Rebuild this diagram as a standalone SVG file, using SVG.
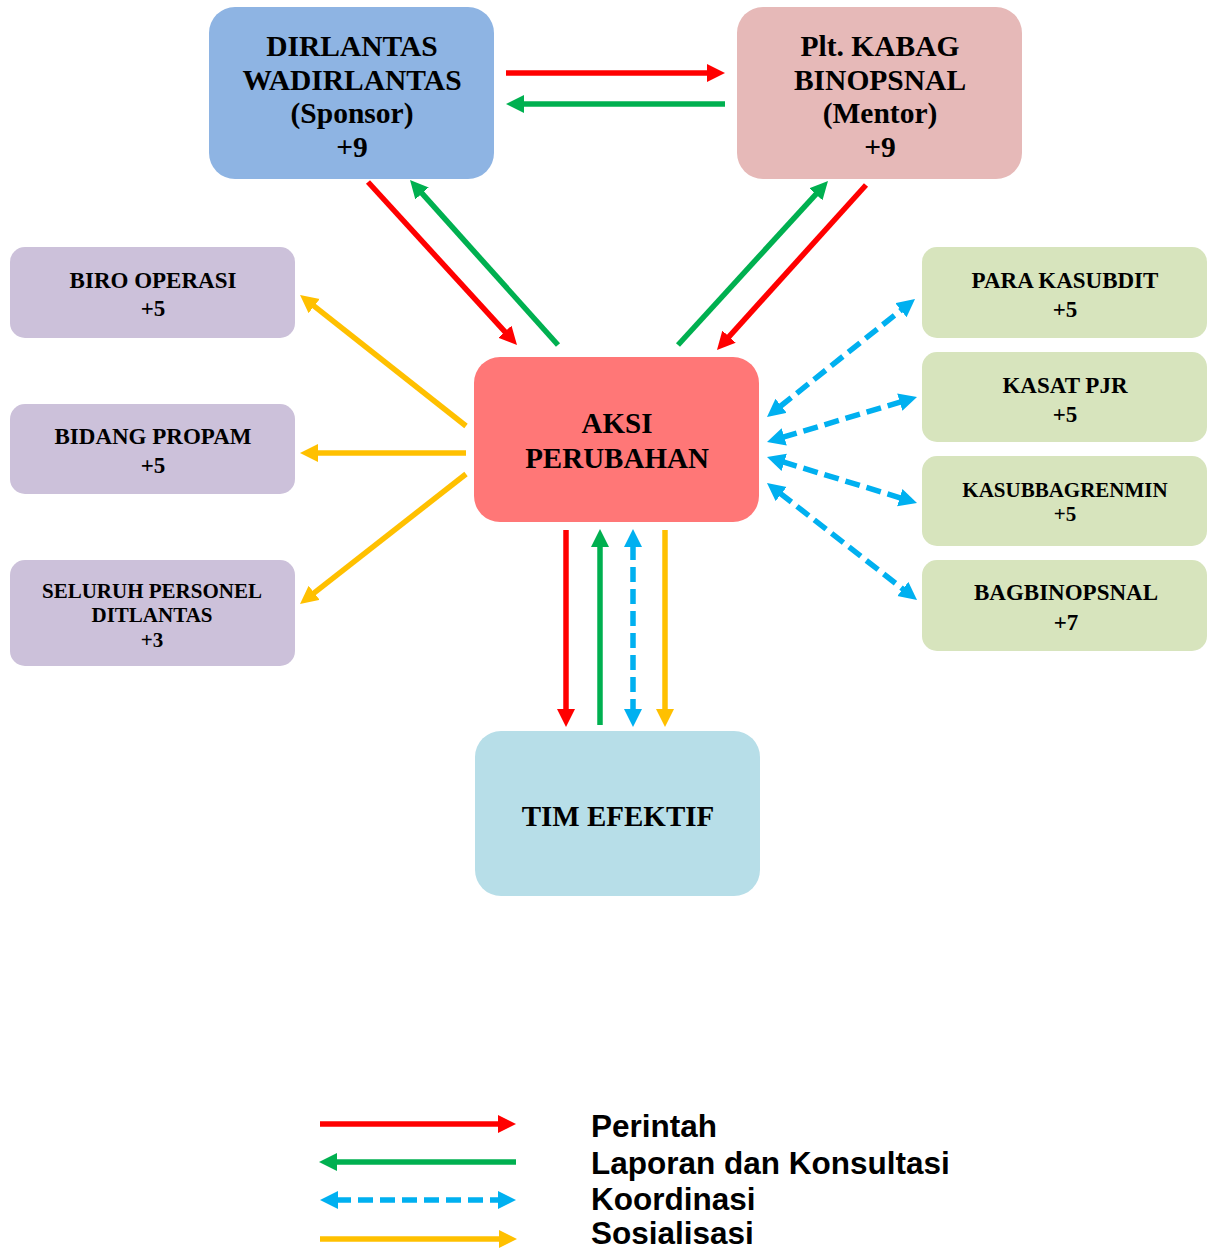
<svg xmlns="http://www.w3.org/2000/svg" width="1208" height="1251" viewBox="0 0 1208 1251">
<style>
.t{font-family:"Liberation Serif","Times New Roman",serif;font-weight:bold;fill:#000;text-anchor:middle}
.lg{font-family:"Liberation Sans",Arial,sans-serif;font-weight:bold;font-size:31.5px;fill:#000}
.r{stroke:#FF0000;stroke-width:5.5;fill:none}
.g{stroke:#00B050;stroke-width:5.5;fill:none}
.y{stroke:#FFC000;stroke-width:5.5;fill:none}
.b{stroke:#00B0F0;stroke-width:5.5;fill:none;stroke-dasharray:15 7}
</style>
<defs>
<marker id="mr" markerUnits="userSpaceOnUse" markerWidth="20" markerHeight="20" refX="2" refY="9" orient="auto-start-reverse"><path d="M0,0 L18,9 L0,18 z" fill="#FF0000"/></marker>
<marker id="mg" markerUnits="userSpaceOnUse" markerWidth="20" markerHeight="20" refX="2" refY="9" orient="auto-start-reverse"><path d="M0,0 L18,9 L0,18 z" fill="#00B050"/></marker>
<marker id="my" markerUnits="userSpaceOnUse" markerWidth="20" markerHeight="20" refX="2" refY="9" orient="auto-start-reverse"><path d="M0,0 L18,9 L0,18 z" fill="#FFC000"/></marker>
<marker id="mb" markerUnits="userSpaceOnUse" markerWidth="20" markerHeight="20" refX="2" refY="9" orient="auto-start-reverse"><path d="M0,0 L18,9 L0,18 z" fill="#00B0F0"/></marker>
</defs>

<g id="dirlantas">
<rect x="209" y="7" width="285" height="172" rx="26" fill="#8EB4E3"/>
<text class="t" font-size="29.5" x="352" y="56">DIRLANTAS</text>
<text class="t" font-size="29.5" x="352" y="90">WADIRLANTAS</text>
<text class="t" font-size="29.5" x="352" y="123">(Sponsor)</text>
<text class="t" font-size="29.5" x="352" y="157">+9</text>
</g>
<g id="mentor">
<rect x="737" y="7" width="285" height="172" rx="26" fill="#E6B9B8"/>
<text class="t" font-size="29.5" x="880" y="56">Plt. KABAG</text>
<text class="t" font-size="29.5" x="880" y="90">BINOPSNAL</text>
<text class="t" font-size="29.5" x="880" y="123">(Mentor)</text>
<text class="t" font-size="29.5" x="880" y="157">+9</text>
</g>
<g id="biro">
<rect x="10" y="247" width="285" height="91" rx="15" fill="#CCC1DA"/>
<text class="t" font-size="23" x="153" y="288">BIRO OPERASI</text>
<text class="t" font-size="23" x="153" y="316">+5</text>
</g>
<g id="propam">
<rect x="10" y="404" width="285" height="90" rx="15" fill="#CCC1DA"/>
<text class="t" font-size="23" x="153" y="444">BIDANG PROPAM</text>
<text class="t" font-size="23" x="153" y="473">+5</text>
</g>
<g id="seluruh">
<rect x="10" y="560" width="285" height="106" rx="15" fill="#CCC1DA"/>
<text class="t" font-size="21" x="152" y="598">SELURUH PERSONEL</text>
<text class="t" font-size="21" x="152" y="622">DITLANTAS</text>
<text class="t" font-size="21" x="152" y="647">+3</text>
</g>
<g id="aksi">
<rect x="474" y="357" width="285" height="165" rx="26" fill="#FF7777"/>
<text class="t" font-size="29" x="617" y="433">AKSI</text>
<text class="t" font-size="29" x="617" y="468">PERUBAHAN</text>
</g>
<g id="tim">
<rect x="475" y="731" width="285" height="165" rx="26" fill="#B7DEE8"/>
<text class="t" font-size="29" x="618" y="826">TIM EFEKTIF</text>
</g>
<g id="kasubdit">
<rect x="922" y="247" width="285" height="91" rx="15" fill="#D7E4BD"/>
<text class="t" font-size="23" x="1065" y="288">PARA KASUBDIT</text>
<text class="t" font-size="23" x="1065" y="317">+5</text>
</g>
<g id="kasat">
<rect x="922" y="352" width="285" height="90" rx="15" fill="#D7E4BD"/>
<text class="t" font-size="23" x="1065" y="393">KASAT PJR</text>
<text class="t" font-size="23" x="1065" y="422">+5</text>
</g>
<g id="kasubbag">
<rect x="922" y="456" width="285" height="90" rx="15" fill="#D7E4BD"/>
<text class="t" font-size="21" x="1065" y="497">KASUBBAGRENMIN</text>
<text class="t" font-size="21" x="1065" y="521">+5</text>
</g>
<g id="bagbin">
<rect x="922" y="560" width="285" height="91" rx="15" fill="#D7E4BD"/>
<text class="t" font-size="23" x="1066" y="600">BAGBINOPSNAL</text>
<text class="t" font-size="23" x="1066" y="630">+7</text>
</g>

<g id="connectors">
<line class="r" x1="506" y1="73" x2="709" y2="73" marker-end="url(#mr)"/>
<line class="g" x1="725" y1="104" x2="522" y2="104" marker-end="url(#mg)"/>
<line class="r" x1="368" y1="182" x2="506.2" y2="333.2" marker-end="url(#mr)"/>
<line class="g" x1="558" y1="345" x2="420.7" y2="191.9" marker-end="url(#mg)"/>
<line class="g" x1="678" y1="345" x2="817.2" y2="192.8" marker-end="url(#mg)"/>
<line class="r" x1="866" y1="185" x2="727.7" y2="338.1" marker-end="url(#mr)"/>
<line class="y" x1="466" y1="426" x2="312.6" y2="304.9" marker-end="url(#my)"/>
<line class="y" x1="466" y1="453" x2="316" y2="453" marker-end="url(#my)"/>
<line class="y" x1="466" y1="474" x2="312.6" y2="594.1" marker-end="url(#my)"/>
<line class="b" x1="779.5" y1="407" x2="902.5" y2="309" marker-start="url(#mb)" marker-end="url(#mb)"/>
<line class="b" x1="782.3" y1="437.4" x2="901.7" y2="401.6" marker-start="url(#mb)" marker-end="url(#mb)"/>
<line class="b" x1="782.3" y1="461.7" x2="901.7" y2="498.3" marker-start="url(#mb)" marker-end="url(#mb)"/>
<line class="b" x1="779.6" y1="492.8" x2="904.4" y2="590.2" marker-start="url(#mb)" marker-end="url(#mb)"/>
<line class="r" x1="566" y1="530" x2="566" y2="711" marker-end="url(#mr)"/>
<line class="g" x1="600" y1="725" x2="600" y2="545" marker-end="url(#mg)"/>
<line class="b" x1="633" y1="545" x2="633" y2="711" marker-start="url(#mb)" marker-end="url(#mb)"/>
<line class="y" x1="665" y1="530" x2="665" y2="711" marker-end="url(#my)"/>
</g>

<g id="legend">
<line class="r" x1="320" y1="1124" x2="500" y2="1124" marker-end="url(#mr)"/>
<line class="g" x1="516" y1="1162" x2="335" y2="1162" marker-end="url(#mg)"/>
<line class="b" x1="336" y1="1200" x2="500" y2="1200" marker-start="url(#mb)" marker-end="url(#mb)"/>
<line class="y" x1="320" y1="1239" x2="501" y2="1239" marker-end="url(#my)"/>
<text class="lg" x="591" y="1137">Perintah</text>
<text class="lg" x="591" y="1174">Laporan dan Konsultasi</text>
<text class="lg" x="591" y="1210">Koordinasi</text>
<text class="lg" x="591" y="1244">Sosialisasi</text>
</g>
</svg>
